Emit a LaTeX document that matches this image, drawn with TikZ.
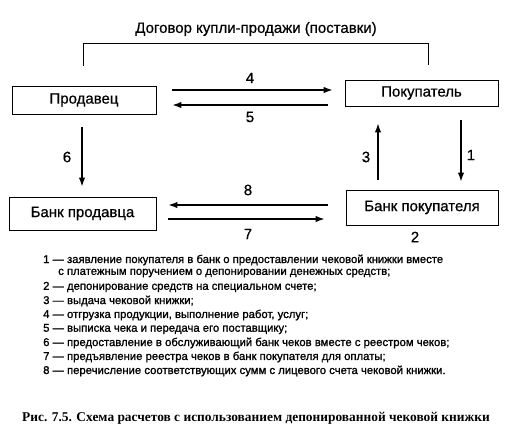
\documentclass[tikz,border=0pt]{standalone}
\usepackage{fontspec}
\setmainfont{Liberation Sans}
\newfontfamily\capfont{Liberation Serif}
\newfontfamily\legfont[FakeBold=1.2]{Liberation Sans}
\newfontfamily\diafont[FakeBold=0.6]{Liberation Sans}
\usetikzlibrary{arrows.meta,calc}
\tikzset{
  box/.style={draw, line width=0.9pt, inner sep=0pt, font=\diafont\fontsize{15}{18}\selectfont},
  arr/.style={line width=1.3pt, -{Latex[length=9pt,width=6.5pt]}},
  num/.style={font=\diafont\fontsize{15}{18}\selectfont, inner sep=0pt},
  leg/.style={anchor=west, inner sep=0pt, font=\legfont\fontsize{11.3}{13}\selectfont},
  bracket/.style={line width=0.9pt}
}
\begin{document}
\begin{tikzpicture}[x=1pt,y=-1pt]
\useasboundingbox (0,0) rectangle (514,434);
% title
\node[num] (title) at (256,29) {Договор купли-продажи (поставки)};
% boxes
\node[box, minimum width=144pt, minimum height=28pt] (prod) at (84,100) {Продавец};
\node[box, minimum width=153pt, minimum height=26pt] (pok) at (421.5,93) {Покупатель};
\node[box, minimum width=147pt, minimum height=33pt] (bprod) at (82.5,213.5) {Банк продавца};
\node[box, minimum width=152pt, minimum height=35pt] (bpok) at (422,207.5) {Банк покупателя};
% bracket
\coordinate (brR) at (428,43);
\draw[bracket] ($(prod.north)+(-1,-20)$) |- (brR) -- ($(pok.north)+(6.5,-15)$);
% arrows
\draw[arr, shorten <=16pt, shorten >=12pt] (prod.east |- 0,90) -- (pok.west |- 0,90);
\draw[arr, shorten <=17pt, shorten >=16pt] (pok.west |- 0,105) -- (prod.east |- 0,105);
\draw[arr, shorten <=18pt, shorten >=12pt] (bpok.west |- 0,205) -- (bprod.east |- 0,205);
\draw[arr, shorten <=12pt, shorten >=21pt] (bprod.east |- 0,219) -- (bpok.west |- 0,219);
\draw[arr, shorten <=13pt, shorten >=10pt] (prod.south -| 82,0) -- (bprod.north -| 82,0);
\draw[arr, shorten <=10pt, shorten >=17pt] (bpok.north -| 378,0) -- (pok.south -| 378,0);
\draw[arr, shorten <=14pt, shorten >=8pt] (pok.south -| 461,0) -- (bpok.north -| 461,0);
% labels
\node[num] (n4) at (250,78) {4};
\node[num] (n5) at (250,117) {5};
\node[num] (n6) at (67,157) {6};
\node[num] (n3) at (366,157) {3};
\node[num] (n1) at (471,155) {1};
\node[num] (n8) at (248,190) {8};
\node[num] (n7) at (248,234) {7};
\node[num] (n2) at (415,237) {2};
% legend
\node[leg] (l1) at (43,260) {1 — заявление покупателя в банк о предоставлении чековой книжки вместе};
\node[leg] (l1b) at (58,273) {с платежным поручением о депонировании денежных средств;};
\node[leg] (l2) at (43,287) {2 — депонирование средств на специальном счете;};
\node[leg] (l3) at (43,301) {3 — выдача чековой книжки;};
\node[leg] (l4) at (43,315) {4 — отгрузка продукции, выполнение работ, услуг;};
\node[leg] (l5) at (43,329) {5 — выписка чека и передача его поставщику;};
\node[leg] (l6) at (43,343) {6 — предоставление в обслуживающий банк чеков вместе с реестром чеков;};
\node[leg] (l7) at (43,357) {7 — предъявление реестра чеков в банк покупателя для оплаты;};
\node[leg] (l8) at (43,371) {8 — перечисление соответствующих сумм с лицевого счета чековой книжки.};
% caption
\node[inner sep=0pt, font=\capfont\bfseries\fontsize{13.4}{15}\selectfont] (cap) at (256,418) {Рис. 7.5. Схема расчетов с использованием депонированной чековой книжки};
\end{tikzpicture}
\end{document}
